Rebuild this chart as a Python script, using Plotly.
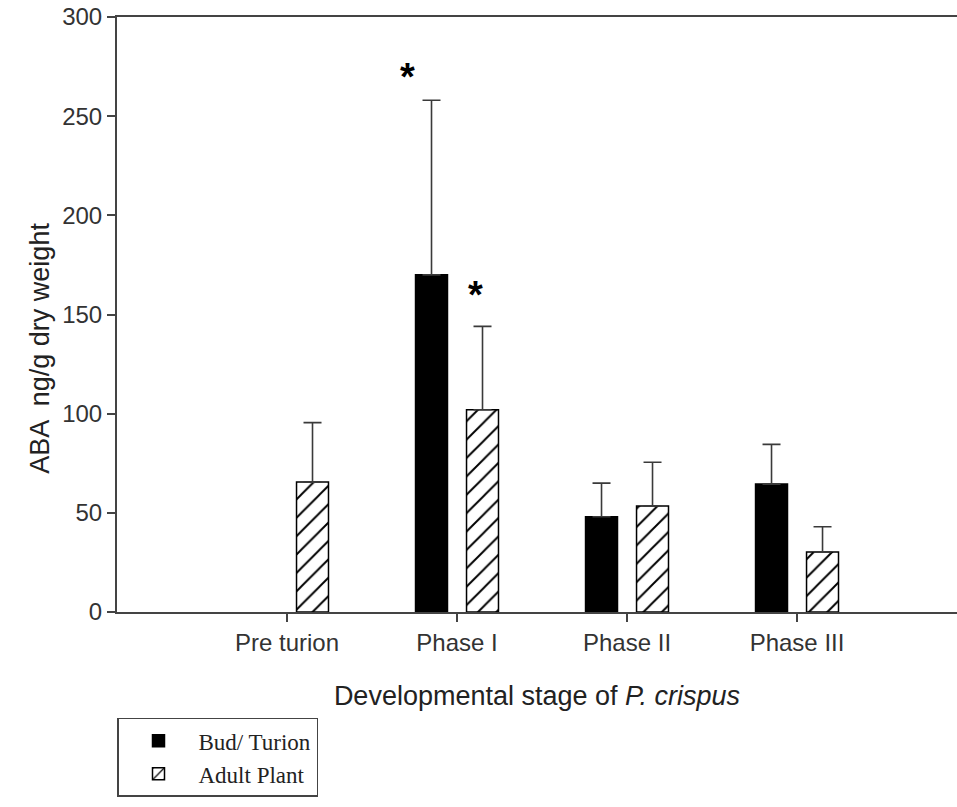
import plotly.graph_objects as go

# Developmental stages of Potamogeton crispus
stages = ["Pre turion", "Phase I", "Phase II", "Phase III"]

# ABA content (ng/g dry weight), mean and upper SD
bud_mean = [None, 170, 48, 64.5]
bud_sd = [None, 88, 17, 20]
adult_mean = [65.5, 102, 53.5, 30.3]
adult_sd = [30, 42, 22, 12.7]

# significance marks: (stage index, y position)
star_x = [0.71, 1.106]
star_y = [270, 160]

x_pos = list(range(len(stages)))
bar_w = 0.188

err_style = dict(type="data", symmetric=False, color="#3a3a3a", thickness=1.6, width=9)

fig = go.Figure()
fig.add_trace(go.Bar(
    x=x_pos, y=bud_mean, name="Bud/ Turion",
    width=bar_w, offset=-0.244,
    marker=dict(color="black", line=dict(color="black", width=1.5)),
    error_y=dict(array=bud_sd, arrayminus=[0] * len(bud_sd), **err_style),
))
fig.add_trace(go.Bar(
    x=x_pos, y=adult_mean, name="Adult Plant",
    width=bar_w, offset=0.056,
    marker=dict(color="white", line=dict(color="black", width=1.5),
                pattern=dict(shape="/", fgcolor="black", bgcolor="white",
                             fgopacity=1, size=13, solidity=0.15)),
    error_y=dict(array=adult_sd, arrayminus=[0] * len(adult_sd), **err_style),
))

for sx, sy in zip(star_x, star_y):
    fig.add_annotation(x=sx, y=sy, xref="x", yref="y", text="<b>*</b>",
                       showarrow=False, font=dict(family="Liberation Sans", size=38, color="black"))

# vertical axis title, centred a little below the middle of the plot
fig.add_annotation(x=-0.112, y=0.444, xref="paper", yref="paper",
                   text="ABA  ng/g dry weight", textangle=-90, showarrow=False,
                   font=dict(family="Liberation Sans", size=27, color="#222222"))

axis_font = dict(family="Liberation Sans", size=24, color="#333333")
fig.update_layout(
    width=957, height=807,
    margin=dict(l=117, r=0, t=17, b=195),
    paper_bgcolor="white", plot_bgcolor="white",
    barmode="overlay",
    showlegend=True,
    legend=dict(
        x=0, y=-0.178, xanchor="left", yanchor="top",
        bordercolor="#444444", borderwidth=1.5,
        font=dict(family="Liberation Serif", size=23, color="#222222"),
        tracegroupgap=0, itemwidth=70,
    ),
    xaxis=dict(
        range=[-1, 3.941], tickvals=x_pos, ticktext=stages,
        showline=True, linecolor="#444444", linewidth=2, mirror=True,
        ticks="outside", ticklen=8, tickwidth=1.5, tickcolor="#444444",
        tickfont=axis_font, showgrid=False, zeroline=False,
        title=dict(text="Developmental stage of <i>P. crispus</i>",
                   font=dict(family="Liberation Sans", size=27, color="#222222"),
                   standoff=31),
    ),
    yaxis=dict(
        range=[0, 300], tickvals=[0, 50, 100, 150, 200, 250, 300],
        showline=True, linecolor="#444444", linewidth=2,
        ticks="outside", ticklen=8, tickwidth=1.5, tickcolor="#444444",
        tickfont=axis_font, showgrid=False, zeroline=False,
    ),
)

fig.write_html("out.html")
